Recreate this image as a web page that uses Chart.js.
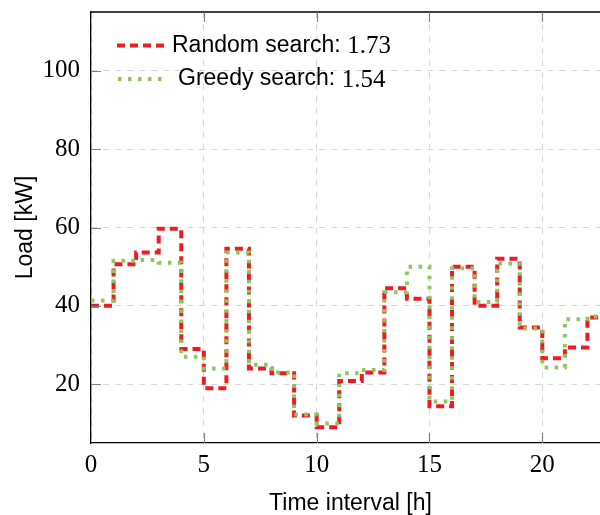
<!DOCTYPE html>
<html>
<head>
<meta charset="utf-8">
<script src="https://cdn.jsdelivr.net/npm/chart.js@4/dist/chart.umd.min.js"></script>
<style>
  html, body { margin: 0; padding: 0; background: #fff; overflow: hidden; }
  #wrap { width: 610px; height: 515px; }
</style>
</head>
<body>
<div id="wrap"><canvas id="loadChart"></canvas></div>
<script>
// hourly load per interval (value held from hour i to i+1)
const hours = [0, 1, 2, 3, 4, 5, 6, 7, 8, 9, 10, 11, 12, 13, 14, 15, 16, 17, 18, 19, 20, 21, 22, 23];
const randomLoad = [40, 50.6, 53.6, 59.7, 29, 19, 54.6, 24, 22.8, 12, 9, 20.8, 23, 44.5, 41.8, 14.4, 50, 40, 52, 34.5, 26.6, 29.4, 37, 37];
const greedyLoad = [41.4, 51.5, 51.7, 51, 27, 24, 53.6, 25, 23, 12.3, 10, 22.8, 23.6, 43.5, 50, 15.6, 49.6, 41, 50.8, 34.2, 24.3, 36.6, 37.3, 37.3];
const xTicks = [0, 5, 10, 15, 20];
const yTicks = [20, 40, 60, 80, 100];
const legendNames = ['Random search: ', 'Greedy search: '];
const legendScores = ['1.73', '1.54'];

const RED = 'rgb(237,28,36)';
const GREEN = 'rgb(141,198,92)';
const SANS = '"Liberation Sans", Arial, sans-serif';
const SERIF = '"Liberation Serif", "Times New Roman", serif';

const toPoints = (vals) => hours.map((h, i) => ({ x: h, y: vals[i] }));

// frame top, inward tick marks, legend inside the plot
const extrasPlugin = {
    id: 'extras',
    afterDraw(chart) {
        const ctx = chart.ctx;
        const a = chart.chartArea;
        const xs = chart.scales.x, ys = chart.scales.y;
        ctx.save();
        ctx.strokeStyle = '#000';
        ctx.lineWidth = 1.3;
        ctx.beginPath();
        ctx.moveTo(a.left, a.top);
        ctx.lineTo(a.right, a.top);
        ctx.stroke();

        ctx.strokeStyle = '#808080';
        ctx.lineWidth = 1.2;
        ctx.beginPath();
        xTicks.forEach(v => {
            const px = Math.round(xs.getPixelForValue(v)) + 0.5;
            if (v === 0) return;
            ctx.moveTo(px, a.bottom); ctx.lineTo(px, a.bottom - 10);
            ctx.moveTo(px, a.top); ctx.lineTo(px, a.top + 10);
        });
        yTicks.forEach(v => {
            const py = Math.round(ys.getPixelForValue(v)) + 0.5;
            ctx.moveTo(a.left, py); ctx.lineTo(a.left + 10, py);
        });
        ctx.stroke();

        // legend
        const rows = [
            { ds: chart.data.datasets[1], y: 45.5, x0: 117, x1: 164, tx: 172 },
            { ds: chart.data.datasets[0], y: 79, x0: 118, x1: 162, tx: 178 }
        ];
        rows.forEach((r, i) => {
            ctx.strokeStyle = r.ds.borderColor;
            ctx.lineWidth = r.ds.borderWidth;
            ctx.setLineDash(r.ds.borderDash);
            ctx.beginPath();
            ctx.moveTo(r.x0, r.y); ctx.lineTo(r.x1, r.y);
            ctx.stroke();
            ctx.setLineDash([]);
            ctx.fillStyle = '#000';
            ctx.textBaseline = 'middle';
            ctx.textAlign = 'left';
            ctx.font = '23px ' + SANS;
            ctx.fillText(legendNames[i], r.tx, r.y);
            const w = ctx.measureText(legendNames[i]).width;
            ctx.font = '25px ' + SERIF;
            ctx.fillText(legendScores[i], r.tx + w, r.y + 1);
        });
        ctx.restore();
    }
};

new Chart(document.getElementById('loadChart'), {
    type: 'line',
    data: {
        datasets: [
            {
                label: 'Greedy search',
                data: toPoints(greedyLoad),
                borderColor: GREEN,
                borderWidth: 4,
                borderDash: [3.5, 6.5],
                stepped: true,
                pointRadius: 0,
                fill: false,
                order: 0
            },
            {
                label: 'Random search',
                data: toPoints(randomLoad),
                borderColor: RED,
                borderWidth: 4,
                borderDash: [8, 5],
                stepped: true,
                pointRadius: 0,
                fill: false,
                order: 1
            }
        ]
    },
    options: {
        responsive: true,
        maintainAspectRatio: false,
        animation: false,
        layout: { padding: { top: 12, right: 0, left: 0, bottom: 0 } },
        plugins: { legend: { display: false }, tooltip: { enabled: false } },
        scales: {
            x: {
                type: 'linear',
                min: 0,
                max: 23,
                afterFit: (s) => { s.height = 72; s.paddingLeft = 0; s.paddingRight = 0; },
                afterBuildTicks: (s) => { s.ticks = xTicks.map(v => ({ value: v })); },
                grid: { color: '#d6d6d6', lineWidth: 1, drawTicks: false },
                border: { display: true, color: '#000', width: 1.3, dash: [6, 6] },
                ticks: { color: '#000', padding: 7, font: { family: SERIF, size: 25 } },
                title: {
                    display: true,
                    text: 'Time interval [h]',
                    color: '#000',
                    font: { family: SANS, size: 23, lineHeight: 1 },
                    padding: { top: 0, bottom: 0 }
                }
            },
            y: {
                min: 5,
                max: 115,
                afterFit: (s) => { s.width = 91; s.paddingTop = 0; s.paddingBottom = 0; },
                afterBuildTicks: (s) => { s.ticks = yTicks.map(v => ({ value: v })); },
                grid: { color: '#d6d6d6', lineWidth: 1, drawTicks: false },
                border: { display: true, color: '#000', width: 1.3, dash: [6, 6] },
                ticks: { color: '#000', padding: 11, font: { family: SERIF, size: 25 } },
                title: {
                    display: true,
                    text: 'Load [kW]',
                    color: '#000',
                    font: { family: SANS, size: 23, lineHeight: 1 },
                    padding: { top: 14, bottom: 0 }
                }
            }
        }
    },
    plugins: [extrasPlugin]
});
</script>
</body>
</html>
